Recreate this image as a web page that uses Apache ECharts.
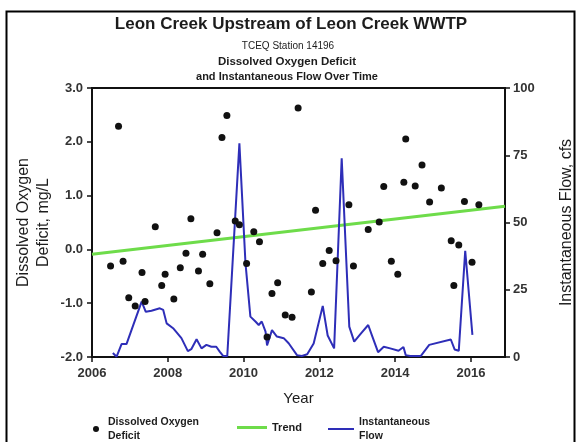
<!DOCTYPE html>
<html>
<head>
<meta charset="utf-8">
<script src="https://cdn.jsdelivr.net/npm/echarts@6/dist/echarts.min.js"></script>
<style>
  html, body { margin: 0; padding: 0; background: #ffffff; }
  #chart { width: 577px; height: 442px; }
</style>
</head>
<body>
<div id="chart"></div>
<script>
// Dissolved oxygen deficit samples (decimal year, mg/L)
const doYear = [
  2006.49, 2006.70, 2006.82, 2006.97, 2007.14, 2007.32, 2007.40, 2007.67, 2007.84, 2007.93,
  2008.16, 2008.33, 2008.48, 2008.61, 2008.81, 2008.92, 2009.11, 2009.30, 2009.43, 2009.56,
  2009.78, 2009.89, 2010.08, 2010.27, 2010.42, 2010.62, 2010.75, 2010.90, 2011.10, 2011.28,
  2011.44, 2011.79, 2011.90, 2012.09, 2012.26, 2012.44, 2012.78, 2012.90, 2013.29, 2013.58,
  2013.70, 2013.90, 2014.07, 2014.23, 2014.28, 2014.53, 2014.71, 2014.91, 2015.22, 2015.48,
  2015.55, 2015.68, 2015.83, 2016.03, 2016.21
];
const doValue = [
  -0.31, 2.29, -0.22, -0.90, -1.05, -0.43, -0.97, 0.42, -0.67, -0.46,
  -0.92, -0.34, -0.07, 0.57, -0.40, -0.09, -0.64, 0.31, 2.08, 2.49,
  0.53, 0.46, -0.26, 0.33, 0.14, -1.63, -0.82, -0.62, -1.22, -1.26,
  2.63, -0.79, 0.73, -0.26, -0.02, -0.21, 0.83, -0.31, 0.37, 0.51,
  1.17, -0.22, -0.46, 1.25, 2.05, 1.18, 1.57, 0.88, 1.14, 0.16,
  -0.67, 0.08, 0.89, -0.24, 0.83
];

// Linear trend of the deficit, end points
const trendYear = [2006.0, 2016.9];
const trendValue = [-0.09, 0.80];

// Instantaneous flow measurements (decimal year, cfs)
const flowYear = [
  2006.55, 2006.65, 2006.78, 2006.91, 2007.31, 2007.42, 2007.57, 2007.79, 2007.88, 2007.97,
  2008.14, 2008.36, 2008.53, 2008.62, 2008.76, 2008.89, 2009.02, 2009.15, 2009.28, 2009.37,
  2009.46, 2009.57, 2009.89, 2010.05, 2010.18, 2010.32, 2010.40, 2010.48, 2010.58, 2010.62,
  2010.75, 2010.88, 2011.06, 2011.19, 2011.41, 2011.54, 2011.68, 2011.85, 2012.09, 2012.22,
  2012.39, 2012.59, 2012.79, 2012.92, 2013.10, 2013.29, 2013.40, 2013.55, 2013.70, 2013.87,
  2014.09, 2014.22, 2014.28, 2014.40, 2014.68, 2014.90, 2015.47, 2015.57, 2015.68, 2015.85,
  2016.04
];
const flowCfs = [
  1.5, 0.1, 4.8, 4.8, 20.6, 16.8, 17.2, 18.1, 17.5, 12.5,
  10.7, 7.0, 2.2, 2.9, 6.6, 3.2, 4.5, 3.8, 3.8, 2.0,
  0.4, 0.4, 79.4, 35.0, 15.0, 13.1, 11.9, 13.2, 9.4, 4.3,
  10.0, 7.6, 7.0, 5.1, 0.7, 0.4, 1.0, 5.0, 19.0, 8.0,
  3.2, 73.9, 11.3, 5.7, 8.8, 11.9, 7.6, 1.8, 3.8, 3.2,
  2.3, 3.7, 0.7, 0.4, 0.4, 4.5, 6.5, 2.8, 2.3, 39.5,
  8.2
];

// Axis tick labels
const yearTicks = [2006, 2008, 2010, 2012, 2014, 2016];
const deficitTicks = [-2.0, -1.0, 0.0, 1.0, 2.0, 3.0];
const flowTicks = [0, 25, 50, 75, 100];

const FONT = '"Liberation Sans", Arial, Helvetica, sans-serif';
const INK = '#1c1c1c';
const GREEN = '#6edc4a';
const BLUE = '#2e2eb8';

const pair = (xs, ys) => xs.map((x, i) => [x, ys[i]]);

const chart = echarts.init(document.getElementById('chart'), null, { renderer: 'canvas' });

chart.setOption({
  animation: false,
  backgroundColor: '#ffffff',
  textStyle: { fontFamily: FONT },
  title: [
    { text: 'Leon Creek Upstream of Leon Creek WWTP', left: 291, top: 16, textAlign: 'center', padding: 0,
      textStyle: { fontSize: 17, fontWeight: 'bold', color: INK, fontFamily: FONT } },
    { text: 'TCEQ Station 14196', left: 288, top: 41, textAlign: 'center', padding: 0,
      textStyle: { fontSize: 10, fontWeight: 'normal', color: INK, fontFamily: FONT } },
    { text: 'Dissolved Oxygen Deficit', left: 287, top: 56, textAlign: 'center', padding: 0,
      textStyle: { fontSize: 11.5, fontWeight: 'bold', color: INK, fontFamily: FONT } },
    { text: 'and Instantaneous Flow Over Time', left: 287, top: 71, textAlign: 'center', padding: 0,
      textStyle: { fontSize: 11, fontWeight: 'bold', color: INK, fontFamily: FONT } }
  ],
  graphic: [
    { type: 'rect', left: 4, top: 9, silent: true, z: -10,
      shape: { width: 568, height: 445 },
      style: { fill: 'none', stroke: '#000', lineWidth: 2 } }
  ],
  legend: [
    { data: ['Dissolved Oxygen Deficit'], left: 93, top: 415, padding: 0, icon: 'circle',
      itemWidth: 14, itemHeight: 6,
      formatter: () => 'Dissolved Oxygen\nDeficit',
      textStyle: { fontSize: 10.5, fontWeight: 'bold', color: INK, lineHeight: 14, fontFamily: FONT } },
    { data: [{ name: 'Trend', icon: 'rect' }], left: 237, top: 422, padding: 0,
      itemWidth: 30, itemHeight: 3,
      textStyle: { fontSize: 11, fontWeight: 'bold', color: INK, fontFamily: FONT } },
    { data: [{ name: 'Instantaneous Flow', icon: 'rect' }], left: 328, top: 415, padding: 0,
      itemWidth: 26, itemHeight: 2,
      formatter: () => 'Instantaneous\nFlow',
      textStyle: { fontSize: 10.5, fontWeight: 'bold', color: INK, lineHeight: 14, fontFamily: FONT } }
  ],
  grid: { left: 92, right: 72, top: 88, bottom: 85, show: true, borderColor: '#111', borderWidth: 2,
          backgroundColor: 'transparent', outerBoundsMode: 'none', containLabel: false },
  xAxis: {
    type: 'value', min: 2006, max: 2016.9, interval: 2,
    name: 'Year', nameLocation: 'middle', nameGap: 34,
    nameTextStyle: { fontSize: 15, color: INK, fontFamily: FONT },
    axisLine: { show: true, onZero: false, lineStyle: { color: '#111', width: 2 } },
    axisTick: { show: true, customValues: yearTicks, length: 5, lineStyle: { color: '#111', width: 1.5 } },
    axisLabel: { customValues: yearTicks, fontSize: 13, fontWeight: 'bold', color: '#333', margin: 10,
                 formatter: v => String(v) },
    splitLine: { show: false }
  },
  yAxis: [
    {
      type: 'value', min: -2, max: 3, interval: 1, position: 'left',
      name: 'Dissolved Oxygen\nDeficit, mg/L', nameLocation: 'middle', nameRotate: 90, nameGap: 38,
      nameMoveOverlap: false,
      nameTextStyle: { fontSize: 16, color: INK, lineHeight: 20, fontFamily: FONT },
      axisLine: { show: true, onZero: false, lineStyle: { color: '#111', width: 2 } },
      axisTick: { show: true, length: 5, lineStyle: { color: '#111', width: 1.5 } },
      axisLabel: { fontSize: 13, fontWeight: 'bold', color: '#333', margin: 9,
                   formatter: v => deficitTicks.includes(v) ? v.toFixed(1) : '' },
      splitLine: { show: false }
    },
    {
      type: 'value', min: 0, max: 100, interval: 25, position: 'right',
      name: 'Instantaneous Flow, cfs', nameLocation: 'middle', nameRotate: 90, nameGap: 54,
      nameTextStyle: { fontSize: 16, color: INK, fontFamily: FONT },
      axisLine: { show: true, onZero: false, lineStyle: { color: '#111', width: 2 } },
      axisTick: { show: true, length: 5, lineStyle: { color: '#111', width: 1.5 } },
      axisLabel: { fontSize: 13, fontWeight: 'bold', color: '#333', margin: 8,
                   formatter: v => flowTicks.includes(v) ? String(v) : '' },
      splitLine: { show: false }
    }
  ],
  series: [
    {
      name: 'Trend', type: 'line', yAxisIndex: 0, z: 2,
      data: pair(trendYear, trendValue), symbol: 'none', silent: true,
      lineStyle: { color: GREEN, width: 3 }, itemStyle: { color: GREEN }
    },
    {
      name: 'Instantaneous Flow', type: 'line', yAxisIndex: 1, z: 3,
      data: pair(flowYear, flowCfs), symbol: 'none', silent: true,
      lineStyle: { color: BLUE, width: 2 }, itemStyle: { color: BLUE }
    },
    {
      name: 'Dissolved Oxygen Deficit', type: 'scatter', yAxisIndex: 0, z: 4,
      data: pair(doYear, doValue), symbol: 'circle', symbolSize: 7,
      itemStyle: { color: '#111111', opacity: 1 }
    }
  ]
});
</script>
</body>
</html>
